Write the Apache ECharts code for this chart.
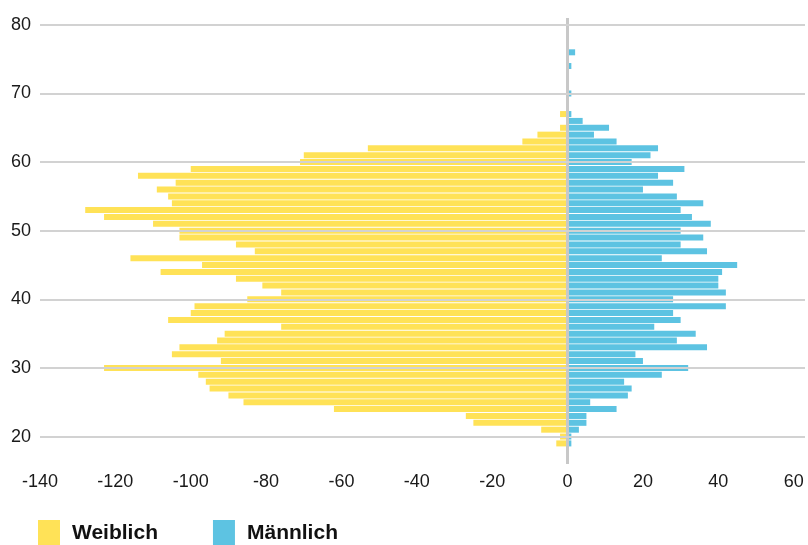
<!DOCTYPE html>
<html>
<head>
<meta charset="utf-8">
<script src="https://cdn.jsdelivr.net/npm/echarts@6/dist/echarts.min.js"></script>
<style>html,body{margin:0;padding:0;background:#fff;}#c{width:808px;height:545px;}</style>
</head>
<body>
<div id="c"></div>
<script>
// Age categories (y axis), 16 .. 81
const ages = ['16','17','18','19','20','21','22','23','24','25','26','27','28','29','30','31','32','33','34','35','36','37','38','39','40','41','42','43','44','45','46','47','48','49','50','51','52','53','54','55','56','57','58','59','60','61','62','63','64','65','66','67','68','69','70','71','72','73','74','75','76','77','78','79','80','81'];
// Female (negative, left side), aligned with ages
const weiblich = [null,null,null,-3,-2,-7,-25,-27,-62,-86,-90,-95,-96,-98,-123,-92,-105,-103,-93,-91,-76,-106,-100,-99,-85,-76,-81,-88,-108,-97,-116,-83,-88,-103,-103,-110,-123,-128,-105,-106,-109,-104,-114,-100,-71,-70,-53,-12,-8,-2,null,-2,null,null,null,null,null,null,null,null,null,null,null,null,null,null];
// Male (positive, right side), aligned with ages
const maennlich = [null,null,null,1,1,3,5,5,13,6,16,17,15,25,32,20,18,37,29,34,23,30,28,42,28,42,40,40,41,45,25,37,30,36,30,38,33,30,36,29,20,28,24,31,17,22,24,13,7,11,4,1,null,null,1,null,null,null,1,null,2,null,null,null,null,null];
const xTicks = [-140,-120,-100,-80,-60,-40,-20,0,20,40,60];
const yTickStep = 10;
const seriesNames = ['Weiblich','Männlich'];

const chart = echarts.init(document.getElementById('c'), null, {renderer:'canvas'});
chart.setOption({
  animation: false,
  grid: {left: 40, right: 0, top: 18, bottom: 81, containLabel: false},
  legend: {
    left: 38, top: 520, padding: 0,
    itemWidth: 22, itemHeight: 26, itemGap: 55,
    icon: 'rect',
    data: seriesNames,
    textStyle: {fontFamily: 'Liberation Sans', fontWeight: 'bold', fontSize: 21, color: '#111', padding: [0,0,0,7]}
  },
  xAxis: {
    type: 'value', min: -140, max: 63, interval: 20,
    axisLine: {show: false}, axisTick: {show: false}, splitLine: {show: false},
    axisLabel: {
      margin: 9, fontFamily: 'Liberation Sans', fontSize: 18, color: '#1a1a1a',
      formatter: v => xTicks.indexOf(v) >= 0 ? String(v) : ''
    }
  },
  yAxis: {
    type: 'category', data: ages, boundaryGap: false, z: 10,
    axisLine: {show: false, onZero: false}, axisTick: {show: false},
    axisLabel: {
      interval: (i, v) => Number(v) % yTickStep === 0,
      margin: 9, fontFamily: 'Liberation Sans', fontSize: 18, color: '#1a1a1a'
    },
    splitLine: {
      show: true,
      interval: (i, v) => Number(v) % yTickStep === 0,
      lineStyle: {color: '#d2d2d2', width: 2}
    }
  },
  series: [
    {
      name: seriesNames[0], type: 'bar', stack: 'all', data: weiblich, barWidth: 6,
      itemStyle: {color: '#FFE257'},
      markLine: {
        silent: true, symbol: 'none', label: {show: false}, z: 5,
        lineStyle: {type: 'solid', color: '#c8c8c8', width: 3},
        data: [{xAxis: 0}]
      }
    },
    {
      name: seriesNames[1], type: 'bar', stack: 'all', data: maennlich, barWidth: 6,
      itemStyle: {color: '#5DC3E2'}
    }
  ]
});
</script>
</body>
</html>
